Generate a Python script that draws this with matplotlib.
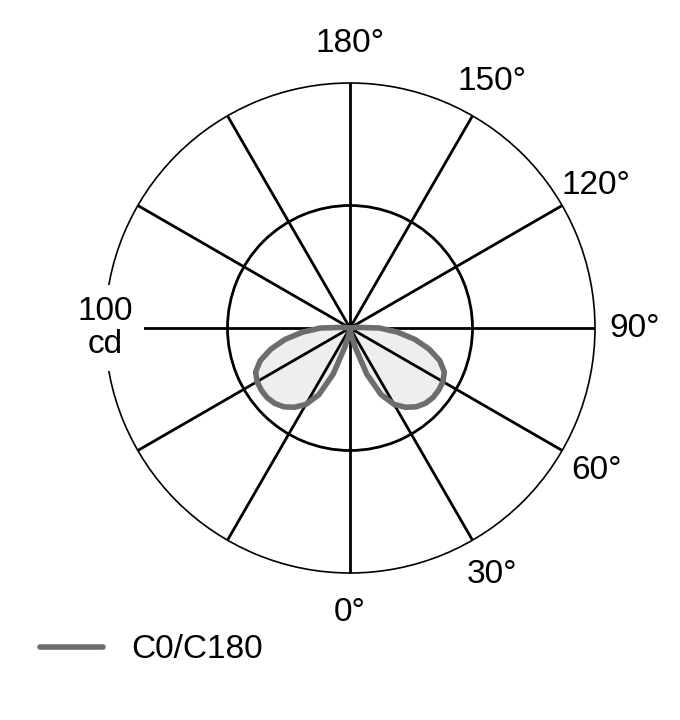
import numpy as np
import matplotlib.pyplot as plt

plt.rcParams['font.family'] = ['Liberation Sans', 'DejaVu Sans']

# luminous intensity (cd), per gamma angle
gamma = [0, 5, 10, 15, 20, 25, 30, 35, 40, 45, 50, 55, 60, 65, 70, 75, 80, 85, 90, 95, 100]
c0 = [0, 1, 3, 8, 20, 30, 36, 39.5, 42, 43.5, 44.2, 44.2, 43.8, 42.5, 39, 33.5, 27, 19.5, 12, 3, 0]
c180 = [0, 1, 3, 8, 20, 30, 36, 39.5, 42, 43.5, 44.2, 44.2, 43.8, 42.5, 39, 33.5, 27, 19.5, 12, 3, 0]

angle_ticks = [0, 30, 60, 90, 120, 150, 180]
angle_labels = ['0°', '30°', '60°', '90°', '120°', '150°', '180°']
r_max = 100
r_ring = 50
scale_label = '100\ncd'
legend_label = 'C0/C180'

fig = plt.figure(figsize=(6.8, 7.2), dpi=100)
ax = fig.add_axes([105 / 680, 1 - 573 / 720, 490 / 680, 490 / 720], projection='polar')
ax.set_theta_zero_location('S')
ax.set_theta_direction(1)
ax.set_ylim(0, r_max)

# C0 on the right half, C180 mirrored on the left
g = np.radians(gamma)
theta = np.concatenate([g, -g[::-1]])
r = np.concatenate([c0, c180[::-1]])
ax.fill(theta, r, color='#eeeeee', lw=0, zorder=1)
ax.plot(theta, r, color='#6d6d6d', lw=4.0, solid_capstyle='round',
        solid_joinstyle='round', zorder=4, label=legend_label)

# grid: spokes every 30 deg, one ring at 50 cd
ax.set_thetagrids(np.arange(0, 360, 30), labels=[''] * 12)
ax.set_rgrids([r_ring], labels=[''])
ax.grid(True, color='black', lw=2.0)
ax.set_axisbelow('line')
ax.tick_params(length=0)
ax.spines['polar'].set_linewidth(1.2)
ax.spines['polar'].set_color('black')

for ang, lab in zip(angle_ticks, angle_labels):
    ax.text(np.radians(ang), 116, lab, ha='center', va='center', fontsize=24, clip_on=False)

ax.text(np.radians(270), r_max, scale_label, ha='center', va='center', fontsize=24,
        linespacing=1.05, zorder=6, clip_on=False,
        bbox=dict(boxstyle='square,pad=0.35', fc='white', ec='none'))

fig.legend(loc='center left', bbox_to_anchor=(39.5 / 680, 1 - 650 / 720),
           frameon=False, fontsize=24, handlelength=1.9, handletextpad=0.85,
           borderpad=0, borderaxespad=0)

fig.savefig('out.png', dpi=100)
